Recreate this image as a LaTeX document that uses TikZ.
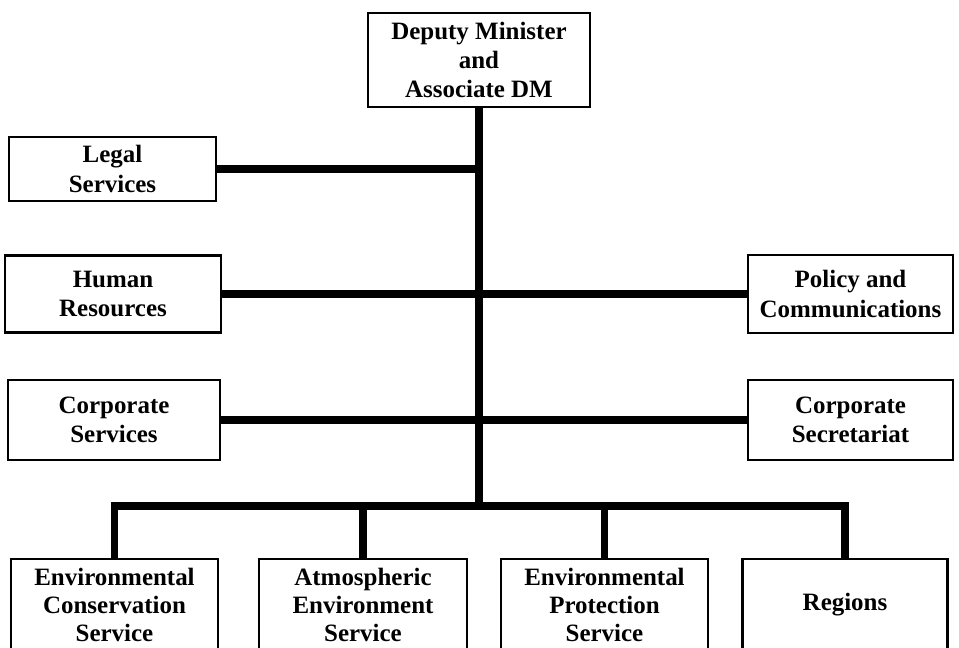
\documentclass[tikz,border=0pt]{standalone}
\usepackage{fontspec}
\setmainfont{Liberation Serif}
\begin{document}
\begin{tikzpicture}[x=0.02cm,y=-0.02cm,
    unit/.style={draw,line width=1.2pt,align=center,inner sep=0pt,
      font=\bfseries\fontsize{14.2}{16.7}\selectfont},
    service/.style={unit,minimum height=1.84cm,
      font=\bfseries\fontsize{14.2}{16}\selectfont},
    link/.style={line width=4.5pt}]
    \useasboundingbox (0,0) rectangle (959,647);
    \clip (0,0) rectangle (959,647);
    \node[unit,minimum width=4.44cm,minimum height=1.88cm] (dm) at (479,60) {Deputy Minister\\and\\Associate DM};
    \node[unit,minimum width=4.14cm,minimum height=1.28cm] (legal) at (112.5,169) {Legal\\Services};
    \node[unit,minimum width=4.32cm,minimum height=1.54cm] (hr) at (113,294) {Human\\Resources};
    \node[unit,minimum width=4.1cm,minimum height=1.56cm] (policy) at (850.5,294) {Policy and\\Communications};
    \node[unit,minimum width=4.24cm,minimum height=1.6cm] (corpserv) at (114,420) {Corporate\\Services};
    \node[unit,minimum width=4.1cm,minimum height=1.6cm] (corpsec) at (850.5,420) {Corporate\\Secretariat};
    % bottom row runs off the page
    \node[service,minimum width=4.14cm] (ecs) at (114.5,605) {Environmental\\Conservation\\Service};
    \node[service,minimum width=4.16cm] (aes) at (363,605) {Atmospheric\\Environment\\Service};
    \node[service,minimum width=4.14cm] (eps) at (604.5,605) {Environmental\\Protection\\Service};
    \node[service,minimum width=4.1cm] (regions) at (845,605) {Regions};
    \coordinate (hub) at (479,506);
    \draw[link] (dm.south) -- (hub);
    \draw[link] (legal.east) -- (legal.east -| hub);
    \draw[link] (hr.east) -- (policy.west);
    \draw[link] (corpserv.east) -- (corpsec.west);
    \draw[link] (ecs.north) |- (hub) -| (regions.north);
    \foreach \n in {aes,eps} \draw[link] (\n.north) -- (\n.north |- hub);
\end{tikzpicture}
\end{document}
